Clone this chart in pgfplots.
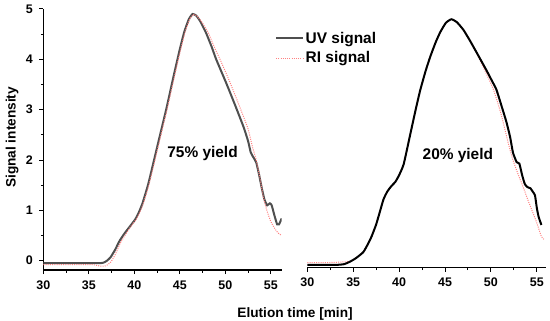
\documentclass[border=0pt]{standalone}
\usepackage{fontspec}
\setmainfont{Liberation Sans}
\usepackage{pgfplots}
\pgfplotsset{compat=1.18}
\definecolor{uvgray}{HTML}{4F4F4F}
\definecolor{rired}{HTML}{FF8080}
\pgfplotstableread{
x y
30 -0.05
33 -0.05
36 -0.05
36.6 -0.04
37.0 0.0
37.4 0.07
37.9 0.22
38.4 0.40
39.0 0.56
39.6 0.70
40.1 0.82
40.5 0.96
40.9 1.14
41.5 1.50
42.0 1.87
42.7 2.40
43.5 3.00
44.3 3.65
45.0 4.20
45.5 4.55
46.0 4.80
46.4 4.90
46.8 4.87
47.3 4.74
47.9 4.52
48.5 4.25
49.0 4.00
50.1 3.53
51.1 3.08
52.0 2.66
52.5 2.38
52.8 2.15
53.1 2.05
53.4 1.95
53.7 1.72
54.0 1.45
54.3 1.22
54.6 1.10
54.9 1.14
55.1 1.10
55.4 0.90
55.7 0.72
55.9 0.72
56.2 0.84
}\uvleft
\pgfplotstableread{
x y
30 -0.08
33 -0.08
35.5 -0.08
36.3 -0.11
36.9 -0.10
37.4 -0.03
37.9 0.12
38.5 0.36
39.1 0.54
39.7 0.70
40.2 0.82
40.6 0.96
41.0 1.14
41.6 1.50
42.1 1.87
42.8 2.40
43.6 3.00
44.4 3.65
45.1 4.20
45.6 4.55
46.1 4.80
46.5 4.89
46.9 4.86
47.5 4.72
48.2 4.50
48.9 4.20
49.5 3.97
50.5 3.55
51.6 3.05
52.5 2.62
53.0 2.25
53.4 2.00
53.8 1.65
54.2 1.25
54.6 0.98
55.0 0.78
55.4 0.65
55.8 0.55
56.2 0.50
}\rileft
\pgfplotstableread{
x y
30 -0.085
33 -0.085
34.0 -0.07
34.65 -0.02
35.3 0.05
36.1 0.17
36.6 0.33
37.0 0.48
37.5 0.72
37.9 0.97
38.3 1.22
38.7 1.37
39.1 1.47
39.6 1.57
40.0 1.70
40.5 1.92
41.2 2.50
41.8 3.00
42.3 3.39
42.9 3.78
43.4 4.06
44.0 4.35
44.5 4.55
45.1 4.73
45.7 4.80
46.3 4.74
47.0 4.59
47.7 4.38
48.5 4.12
49.5 3.79
50.1 3.58
50.6 3.40
51.2 3.05
51.7 2.75
52.1 2.45
52.4 2.15
52.8 1.96
53.1 1.93
53.4 1.70
53.7 1.52
54.0 1.46
54.3 1.44
54.6 1.36
54.8 1.30
55.0 1.05
55.2 0.87
55.5 0.71
}\uvright
\pgfplotstableread{
x y
30 -0.04
32 -0.04
33.5 -0.03
34.3 -0.02
34.7 -0.01
35.3 0.05
36.1 0.17
36.6 0.33
37.0 0.48
37.5 0.72
37.9 0.97
38.3 1.22
38.7 1.37
39.1 1.47
39.6 1.57
40.0 1.70
40.5 1.92
41.2 2.50
41.8 3.00
42.3 3.39
42.9 3.78
43.4 4.06
44.0 4.35
44.5 4.55
45.1 4.73
45.7 4.80
46.3 4.74
47.0 4.59
47.7 4.38
48.5 4.10
49.5 3.72
50.3 3.39
51.1 2.92
51.9 2.33
52.4 2.00
53.0 1.70
53.5 1.47
54.0 1.22
54.6 0.94
55.0 0.75
55.5 0.48
55.8 0.42
}\riright
\begin{document}
\begin{tikzpicture}
\pgfplotsset{
  common/.style={
    scale only axis,
    axis x line*=bottom,
    xtick={30,35,...,55}, minor x tick num=1,
    tick align=outside,
    major tick length=4bp, minor tick length=2.5bp,
    every tick/.style={black, line width=1bp},
    axis line style={black, line width=1.3bp},
    tick label style={font=\fontsize{12.5}{14}\selectfont\bfseries},
    xticklabel style={yshift=-3bp},
    /pgf/number format/assume math mode=true,
  },
  uv/.style={line width=2bp, smooth, tension=0.3},
  ri/.style={rired, line width=1bp, dash pattern=on 1bp off 1.2bp, smooth, tension=0.3},
}
\begin{axis}[common,
  at={(43.3bp,51bp)}, anchor=south west,
  width=238.4bp, height=261bp,
  xmin=30, xmax=56.2, ymin=-0.185, ymax=5,
  axis y line*=left,
  ytick={0,...,5}, minor y tick num=1,
  yticklabel style={xshift=-3bp},
  ylabel={Signal intensity},
  ylabel style={at={(axis description cs:-0.131,0.508)}, anchor=center, rotate=0, font=\fontsize{13.7}{16}\selectfont\bfseries},
  xlabel={Elution time [min]},
  xlabel style={at={(axis description cs:1.056,-0.17)}, anchor=center, font=\fontsize{13.7}{16}\selectfont\bfseries},
  legend style={at={(axis description cs:0.972,0.918)}, anchor=north west, draw=none, fill=none, inner sep=0pt,
    font=\fontsize{15.5}{18}\selectfont\bfseries, row sep=4bp,
    nodes={inner sep=1.5bp}},
  legend image code/.code={\draw[#1] (0bp,0bp) -- (27bp,0bp);},
  legend cell align=left,
]
\addplot[uv, uvgray] table {\uvleft};
\addlegendentry{UV signal}
\addplot[ri] table {\rileft};
\addlegendentry{RI signal}
\node[font=\fontsize{15.5}{18}\selectfont\bfseries] at (axis cs:47.5,2.12) {75\% yield};
\end{axis}
\begin{axis}[common,
  at={(307.3bp,53.3bp)}, anchor=south west,
  width=238.7bp, height=258.5bp,
  xmin=30, xmax=56.0, ymin=-0.14, ymax=5,
  axis y line=none,
]
\addplot[ri] table {\riright};
\addplot[uv, black] table {\uvright};
\node[font=\fontsize{15.5}{18}\selectfont\bfseries] at (axis cs:46.4,2.09) {20\% yield};
\end{axis}
\pgfresetboundingbox
\path[use as bounding box] (0,0) rectangle (550bp,321bp);
\end{tikzpicture}
\end{document}
